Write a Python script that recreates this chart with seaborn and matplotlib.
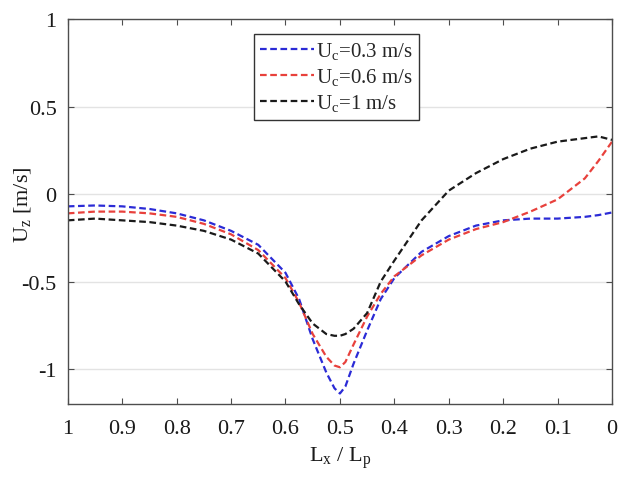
import numpy as np
import pandas as pd
import matplotlib
matplotlib.use("Agg")
import matplotlib.pyplot as plt
import seaborn as sns

# Normalised position along the profile
lx_lp = [1.0, 0.95, 0.9, 0.85, 0.8, 0.75, 0.7, 0.65, 0.6, 0.575, 0.55, 0.525,
         0.51, 0.5, 0.49, 0.475, 0.45, 0.425, 0.4, 0.35, 0.3, 0.25, 0.2, 0.15,
         0.1, 0.05, 0.025, 0.0]

# Vertical velocity U_z [m/s] for each inlet velocity
uz_03 = [-0.07, -0.065, -0.07, -0.085, -0.11, -0.15, -0.21, -0.29, -0.45, -0.6,
         -0.83, -1.02, -1.11, -1.14, -1.1, -0.97, -0.78, -0.6, -0.48, -0.33,
         -0.24, -0.18, -0.15, -0.14, -0.14, -0.13, -0.12, -0.105]
uz_06 = [-0.11, -0.10, -0.10, -0.11, -0.13, -0.17, -0.23, -0.32, -0.48, -0.62,
         -0.8, -0.93, -0.98, -0.99, -0.96, -0.86, -0.7, -0.57, -0.47, -0.35,
         -0.26, -0.2, -0.16, -0.10, -0.03, 0.09, 0.19, 0.30]
uz_10 = [-0.15, -0.14, -0.15, -0.16, -0.18, -0.21, -0.26, -0.34, -0.5, -0.63,
         -0.74, -0.8, -0.81, -0.81, -0.8, -0.77, -0.68, -0.5, -0.38, -0.15,
         0.02, 0.12, 0.2, 0.26, 0.3, 0.32, 0.33, 0.31]

labels = [r"U$_{\mathregular{c}}$=0.3 m/s",
          r"U$_{\mathregular{c}}$=0.6 m/s",
          r"U$_{\mathregular{c}}$=1 m/s"]
colors = ["#2b2bd6", "#e8413c", "#1a1a1a"]

xticks = [1, 0.9, 0.8, 0.7, 0.6, 0.5, 0.4, 0.3, 0.2, 0.1, 0]
xticklabels = ["1", "0.9", "0.8", "0.7", "0.6", "0.5", "0.4", "0.3", "0.2", "0.1", "0"]
yticks = [-1, -0.5, 0, 0.5, 1]
yticklabels = ["-1", "-0.5", "0", "0.5", "1"]

df = pd.DataFrame({
    "x": lx_lp * 3,
    "uz": uz_03 + uz_06 + uz_10,
    "case": [labels[0]] * len(lx_lp) + [labels[1]] * len(lx_lp) + [labels[2]] * len(lx_lp),
})

sns.set_theme(style="whitegrid")
plt.rcParams["font.family"] = ["Liberation Serif", "DejaVu Serif"]
plt.rcParams["mathtext.fontset"] = "custom"
plt.rcParams["mathtext.rm"] = "Liberation Serif"
plt.rcParams["mathtext.it"] = "Liberation Serif"

fig = plt.figure(figsize=(6.22, 4.81), dpi=100)
ax = fig.add_axes([0.109, 0.158, 0.875, 0.8])

sns.lineplot(data=df, x="x", y="uz", hue="case", style="case",
             palette=dict(zip(labels, colors)),
             dashes={l: (3, 1.6) for l in labels},
             sort=False, estimator=None, linewidth=1.6, ax=ax)

ax.set_xlim(1, 0)
ax.set_ylim(-1.2, 1)
ax.set_xticks(xticks)
ax.set_xticklabels(xticklabels)
ax.set_yticks(yticks)
ax.set_yticklabels(yticklabels)

ax.grid(axis="x", visible=False)
ax.grid(axis="y", color="#e3e3e3", linewidth=1.0)
for s in ax.spines.values():
    s.set_color("#4d4d4d")
    s.set_linewidth(1.0)
ax.tick_params(direction="in", length=4, width=0.8, color="#4d4d4d",
               labelsize=16, labelcolor="#1a1a1a", pad=8,
               top=True, right=True, bottom=True, left=True)
ax.tick_params(axis="x", pad=11)

ax.set_xlabel(r"L$_{\mathregular{x}}$ / L$_{\mathregular{p}}$", fontsize=16,
              color="#1a1a1a")
ax.xaxis.set_label_coords(0.5, -0.105)
ax.set_ylabel(r"U$_{\mathregular{z}}$ [m/s]", fontsize=16, color="#1a1a1a")
ax.yaxis.set_label_coords(-0.064, 0.52)

leg = ax.legend(loc="upper center", bbox_to_anchor=(0.494, 0.962), fontsize=15,
                frameon=True, fancybox=False, framealpha=1, edgecolor="#333333",
                handlelength=2.6, handletextpad=0.1, borderpad=0.3,
                labelspacing=0.25, borderaxespad=0)
leg.get_frame().set_linewidth(1.0)

fig.savefig("out.png", dpi=100)
